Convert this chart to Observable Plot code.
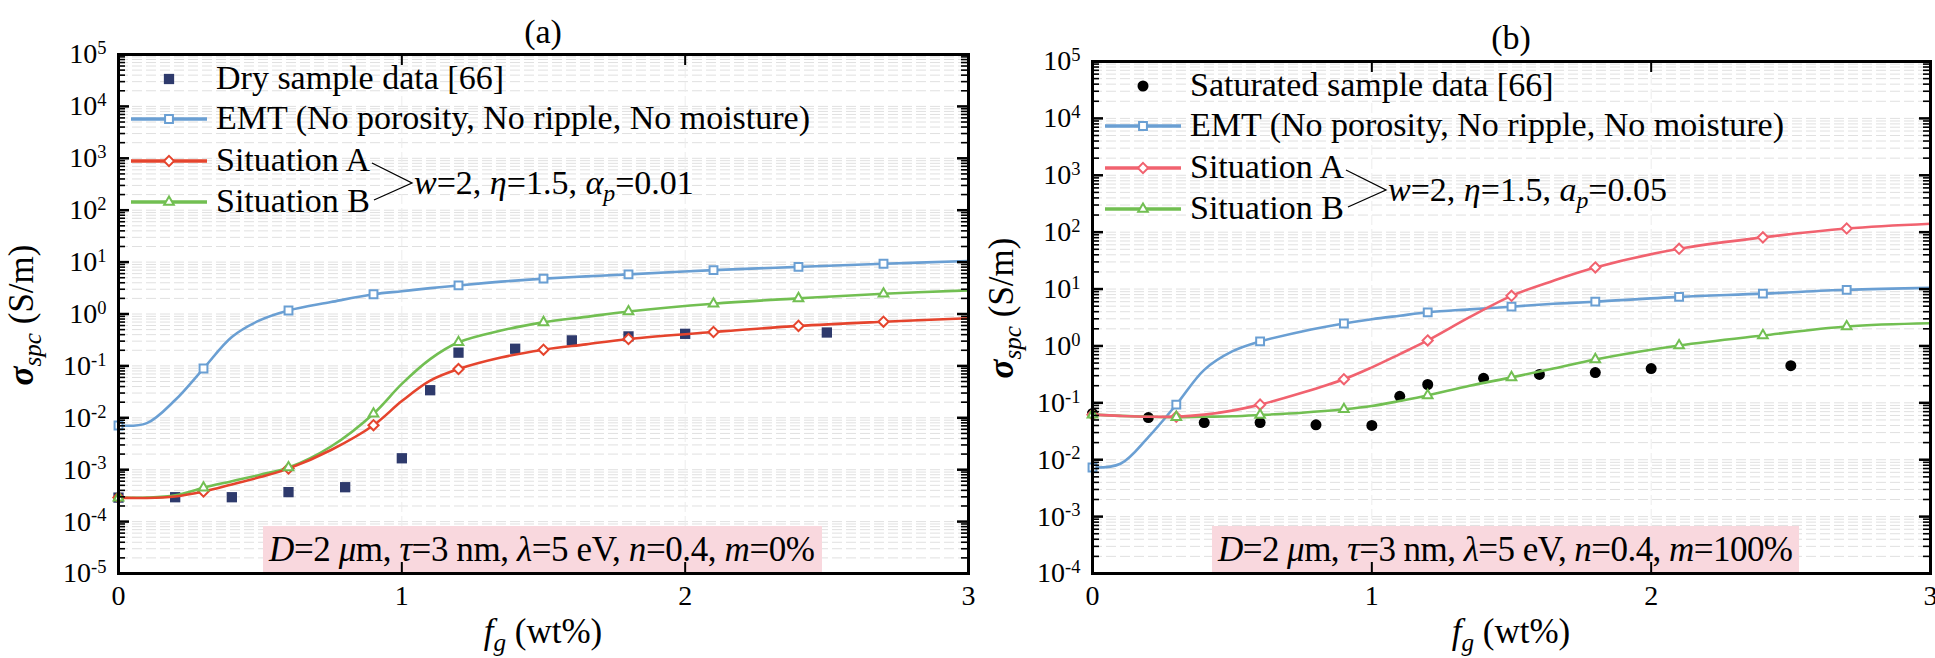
<!DOCTYPE html>
<html><head><meta charset="utf-8">
<script src="https://cdn.jsdelivr.net/npm/d3@7"></script>
<script src="https://cdn.jsdelivr.net/npm/@observablehq/plot@0.6"></script>
<style>
body{margin:0;background:#fff;}
#wrap{position:relative;width:1935px;height:658px;overflow:hidden;font-family:"Liberation Serif","Times New Roman",serif;}
#wrap svg{position:absolute;top:0;overflow:visible;}
</style></head><body><div id="wrap"></div>
<script>
// ---------- data ----------
const fGrid   = [0, 0.1, 0.2, 0.3, 0.4, 0.5, 0.6, 0.75, 0.9, 1.0, 1.1, 1.2, 1.35, 1.5, 1.65, 1.8, 2.1, 2.4, 2.7, 3.0];
const markerF = [0, 0.3, 0.6, 0.9, 1.2, 1.5, 1.8, 2.1, 2.4, 2.7];

// Panel (a): m = 0%
const emtA   = [0.0071, 0.0079, 0.022, 0.089, 0.36, 0.76, 1.17, 1.7, 2.4, 2.75, 3.15, 3.55, 4.2, 4.8, 5.3, 5.8, 7.0, 8.1, 9.3, 10.5];
const sitA_a = [2.9e-4, 2.85e-4, 3.05e-4, 3.8e-4, 5.2e-4, 7.2e-4, 1.05e-3, 2.4e-3, 7.2e-3, 0.021, 0.052, 0.087, 0.145, 0.205, 0.26, 0.33, 0.45, 0.59, 0.71, 0.83];
const sitB_a = [2.9e-4, 2.9e-4, 3.2e-4, 4.5e-4, 6.0e-4, 8.0e-4, 1.1e-3, 2.8e-3, 0.012, 0.045, 0.135, 0.285, 0.48, 0.69, 0.88, 1.12, 1.58, 2.0, 2.46, 2.85];
const dryF   = [0, 0.2, 0.4, 0.6, 0.8, 1.0, 1.1, 1.2, 1.4, 1.6, 1.8, 2.0, 2.5];
const dryV   = [2.9e-4, 2.95e-4, 2.95e-4, 3.7e-4, 4.6e-4, 1.66e-3, 0.034, 0.18, 0.214, 0.31, 0.37, 0.415, 0.44];

// Panel (b): m = 100%
const emtB   = [0.0073, 0.0085, 0.025, 0.093, 0.38, 0.8, 1.2, 1.8, 2.48, 2.95, 3.4, 3.9, 4.4, 4.9, 5.5, 6.0, 7.3, 8.3, 9.7, 10.5];
const sitA_b = [0.062, 0.059, 0.057, 0.057, 0.062, 0.073, 0.093, 0.15, 0.26, 0.42, 0.72, 1.25, 3.2, 7.6, 14, 24, 51, 81, 116, 141];
const sitB_b = [0.062, 0.059, 0.057, 0.056, 0.057, 0.058, 0.061, 0.067, 0.077, 0.088, 0.108, 0.135, 0.2, 0.28, 0.4, 0.58, 1.02, 1.53, 2.2, 2.5];
const satF   = [0, 0.2, 0.4, 0.6, 0.8, 1.0, 1.1, 1.2, 1.4, 1.6, 1.8, 2.0, 2.5];
const satV   = [0.065, 0.055, 0.045, 0.045, 0.041, 0.040, 0.13, 0.21, 0.27, 0.316, 0.34, 0.40, 0.45];

const xTicks  = [0, 1, 2, 3];
const yExpA   = [-5, -4, -3, -2, -1, 0, 1, 2, 3, 4, 5];
const yExpB   = [-4, -3, -2, -1, 0, 1, 2, 3, 4, 5];
const legendObsA = "Dry sample data [66]";
const legendObsB = "Saturated sample data [66]";
const legendEMT  = "EMT (No porosity, No ripple, No moisture)";
const legendSitA = "Situation A";
const legendSitB = "Situation B";

// ---------- styles ----------
const C = {blue: "#6a9fd3", redA: "#e5442d", redB: "#f1626f", green: "#72bf52", navy: "#2e3a6c", black: "#000", pink: "#f9d8de"};
const FONT = '"Liberation Serif","Times New Roman",serif';
const TXT = 34;

function buildPanel(cfg) {
  const W = cfg.width, H = 658;
  const fw = W - cfg.ml - cfg.mr, fh = H - cfg.mt - cfg.mb;
  const majors = cfg.exps.map(e => 10 ** e);
  const minors = [];
  cfg.exps.slice(0, -1).forEach(e => { for (let k = 2; k <= 9; k++) minors.push(k * 10 ** e); });
  const rows = vals => fGrid.map((f, i) => ({f, v: vals[i]}));
  const mk = vals => rows(vals).filter(d => markerF.some(m => Math.abs(m - d.f) < 1e-9));
  const obs = cfg.obsF.map((f, i) => ({f, v: cfg.obsV[i]}));
  const lineOpts = (color) => ({x: "f", y: "v", stroke: color, strokeWidth: 2.6, curve: "catmull-rom"});
  const dotOpts = (color, sym, r) => ({x: "f", y: "v", stroke: color, strokeWidth: 2, fill: "white", symbol: sym, r});

  const svg = Plot.plot({
    width: W, height: H,
    marginLeft: cfg.ml, marginRight: cfg.mr, marginTop: cfg.mt, marginBottom: cfg.mb,
    x: {domain: [0, 3]},
    y: {type: "log", domain: [majors[0], majors[majors.length - 1]]},
    style: {fontFamily: FONT, fontSize: "28px", background: "transparent", color: "black", overflow: "visible"},
    marks: [
      Plot.ruleY(minors.concat(majors), {stroke: "#e0e0e0", strokeDasharray: "10,4", strokeWidth: 1}),
      Plot.ruleX([1, 2], {stroke: "#ececec", strokeDasharray: "10,4", strokeWidth: 1}),
      Plot.dot(obs, {x: "f", y: "v", fill: cfg.obsColor, symbol: cfg.obsSymbol, r: cfg.obsR}),
      Plot.line(rows(cfg.emt), lineOpts(C.blue)),
      Plot.line(rows(cfg.sitB), lineOpts(C.green)),
      Plot.line(rows(cfg.sitA), lineOpts(cfg.red)),
      Plot.dot(mk(cfg.emt), dotOpts(C.blue, d3.symbolSquare2, 5)),
      Plot.dot(mk(cfg.sitA), dotOpts(cfg.red, d3.symbolDiamond2, 4.6)),
      Plot.dot(mk(cfg.sitB), dotOpts(C.green, d3.symbolTriangle2, 4.6)),
      // inward ticks
      Plot.tickY(majors, {y: d => d, insetRight: fw - 11, stroke: "black", strokeWidth: 2.5}),
      Plot.tickY(majors, {y: d => d, insetLeft: fw - 11, stroke: "black", strokeWidth: 2.5}),
      Plot.tickY(minors, {y: d => d, insetRight: fw - 7, stroke: "black", strokeWidth: 1.6}),
      Plot.tickY(minors, {y: d => d, insetLeft: fw - 7, stroke: "black", strokeWidth: 1.6}),
      Plot.tickX([1, 2], {x: d => d, insetTop: fh - 11, stroke: "black", strokeWidth: 2}),
      Plot.tickX([1, 2], {x: d => d, insetBottom: fh - 11, stroke: "black", strokeWidth: 2}),
      Plot.axisX({ticks: xTicks, tickSize: 0, tickPadding: 12, tickFormat: d => String(d), label: null}),
      Plot.axisY({ticks: majors, tickSize: 0, tickPadding: 12, tickFormat: d => String(Math.round(Math.log10(d))), label: null}),
      Plot.frame({stroke: "black", strokeWidth: 3})
    ]
  });
  svg.style.left = cfg.left + "px";
  document.getElementById("wrap").appendChild(svg);
  const s = d3.select(svg);

  // superscript tick labels
  s.selectAll('g[aria-label="y-axis tick label"] text').each(function () {
    const e = this.textContent;
    const t = d3.select(this);
    t.text(null);
    t.append("tspan").text("10");
    t.append("tspan").attr("dy", "-0.5em").attr("font-size", "0.66em").text(e);
  });

  // parameter box, inserted right above the grid
  const rules = s.selectAll('g[aria-label="rule"]').nodes();
  const boxG = document.createElementNS("http://www.w3.org/2000/svg", "g");
  svg.insertBefore(boxG, rules[rules.length - 1].nextSibling);
  const bg = d3.select(boxG).attr("transform", `translate(${cfg.ml},${cfg.mt})`).attr("text-anchor", "start");
  bg.append("rect").attr("x", cfg.boxX).attr("y", fh - 47).attr("width", cfg.boxW).attr("height", 47).attr("fill", C.pink);
  const bt = bg.append("text").attr("x", cfg.boxX + 6).attr("y", fh - 12).attr("font-size", 35).attr("font-family", FONT)
    .attr("textLength", cfg.boxTextLen).attr("lengthAdjust", "spacing");
  const it = (str) => bt.append("tspan").attr("font-style", "italic").text(str);
  const rm = (str) => bt.append("tspan").text(str);
  it("D"); rm("=2 "); it("\u03bc"); rm("m, "); it("\u03c4"); rm("=3 nm, "); it("\u03bb"); rm("=5 eV, ");
  it("n"); rm("=0.4, "); it("m"); rm("=" + cfg.mText);

  // legend
  const lg = s.append("g").attr("transform", `translate(${cfg.ml},${cfg.mt})`).attr("font-family", FONT)
    .attr("font-size", TXT).attr("text-anchor", "start");
  const rowsY = [25, 65, 107, 148];
  const obsSym = d3.symbol(cfg.obsSymbol, Math.PI * cfg.obsR * cfg.obsR);
  lg.append("path").attr("d", obsSym()).attr("transform", `translate(51,${rowsY[0]})`).attr("fill", cfg.obsColor);
  const items = [
    [cfg.obsLabel, null, null, null],
    [legendEMT, C.blue, d3.symbolSquare2, 5],
    [legendSitA, cfg.red, d3.symbolDiamond2, 4.6],
    [legendSitB, C.green, d3.symbolTriangle2, 4.6]
  ];
  let sitATextNode = null;
  items.forEach((it2, i) => {
    const y = rowsY[i];
    if (it2[1]) {
      lg.append("line").attr("x1", 13).attr("x2", 89).attr("y1", y).attr("y2", y).attr("stroke", it2[1]).attr("stroke-width", 3.5);
      lg.append("path").attr("d", d3.symbol(it2[2], Math.PI * it2[3] * it2[3])()).attr("transform", `translate(51,${y})`)
        .attr("fill", "white").attr("stroke", it2[1]).attr("stroke-width", 2);
    }
    const tn = lg.append("text").attr("x", 98).attr("y", y + 10).text(it2[0]);
    if (i === 2) sitATextNode = tn.node();
  });
  const endA = 98 + sitATextNode.getComputedTextLength() + 2;
  lg.append("path").attr("d", `M${endA},${rowsY[2] + 2}L${endA + 40},${rowsY[2] + 22}L${endA + 2},${rowsY[3] - 2}`)
    .attr("fill", "none").attr("stroke", "black").attr("stroke-width", 1.3);
  const pt = lg.append("text").attr("x", endA + 42).attr("y", rowsY[2] + 33);
  const pi = (str) => pt.append("tspan").attr("font-style", "italic").text(str);
  const pr = (str) => pt.append("tspan").text(str);
  pi("w"); pr("=2, "); pi("\u03b7"); pr("=1.5, "); pi(cfg.aSym);
  pt.append("tspan").attr("font-style", "italic").attr("font-size", "0.7em").attr("dy", "0.3em").text("p");
  pt.append("tspan").attr("dy", "-0.21em").text("=" + cfg.apText);

  // panel title
  s.append("text").attr("x", cfg.ml + fw / 2).attr("y", cfg.titleY).attr("text-anchor", "middle")
    .attr("font-family", FONT).attr("font-size", 34).text(cfg.title);

  // x label
  const xl = s.append("text").attr("x", cfg.ml + fw / 2).attr("y", 643).attr("text-anchor", "middle")
    .attr("font-family", FONT).attr("font-size", 35);
  xl.append("tspan").attr("font-style", "italic").text("f");
  xl.append("tspan").attr("font-style", "italic").attr("font-size", "0.72em").attr("dy", "0.3em").text("g");
  xl.append("tspan").attr("dy", "-0.22em").text(" (wt%)");

  // y label
  const yl = s.append("text").attr("transform", `translate(33,${cfg.yLabelY}) rotate(-90)`).attr("text-anchor", "middle")
    .attr("font-family", FONT).attr("font-size", 35);
  yl.append("tspan").attr("font-style", "italic").attr("font-weight", "bold").text("\u03c3");
  yl.append("tspan").attr("font-style", "italic").attr("font-size", "0.72em").attr("dy", "0.3em").text("spc");
  yl.append("tspan").attr("dy", "-0.22em").text(" (S/m)");
}

buildPanel({
  left: 0, width: 980, ml: 118, mr: 12, mt: 54, mb: 85, exps: yExpA,
  emt: emtA, sitA: sitA_a, sitB: sitB_a, red: C.redA,
  obsF: dryF, obsV: dryV, obsColor: C.navy, obsSymbol: d3.symbolSquare, obsR: 5.8, obsLabel: legendObsA,
  boxX: 145, boxW: 559, boxTextLen: 546, mText: "0%", aSym: "\u03b1", apText: "0.01",
  title: "(a)", titleY: 43, yLabelY: 315
});
buildPanel({
  left: 980, width: 955, ml: 112, mr: 5, mt: 61, mb: 85, exps: yExpB,
  emt: emtB, sitA: sitA_b, sitB: sitB_b, red: C.redB,
  obsF: satF, obsV: satV, obsColor: C.black, obsSymbol: d3.symbolCircle, obsR: 5.5, obsLabel: legendObsB,
  boxX: 120, boxW: 587, boxTextLen: 575, mText: "100%", aSym: "a", apText: "0.05",
  title: "(b)", titleY: 49, yLabelY: 308
});
</script>
</body></html>
